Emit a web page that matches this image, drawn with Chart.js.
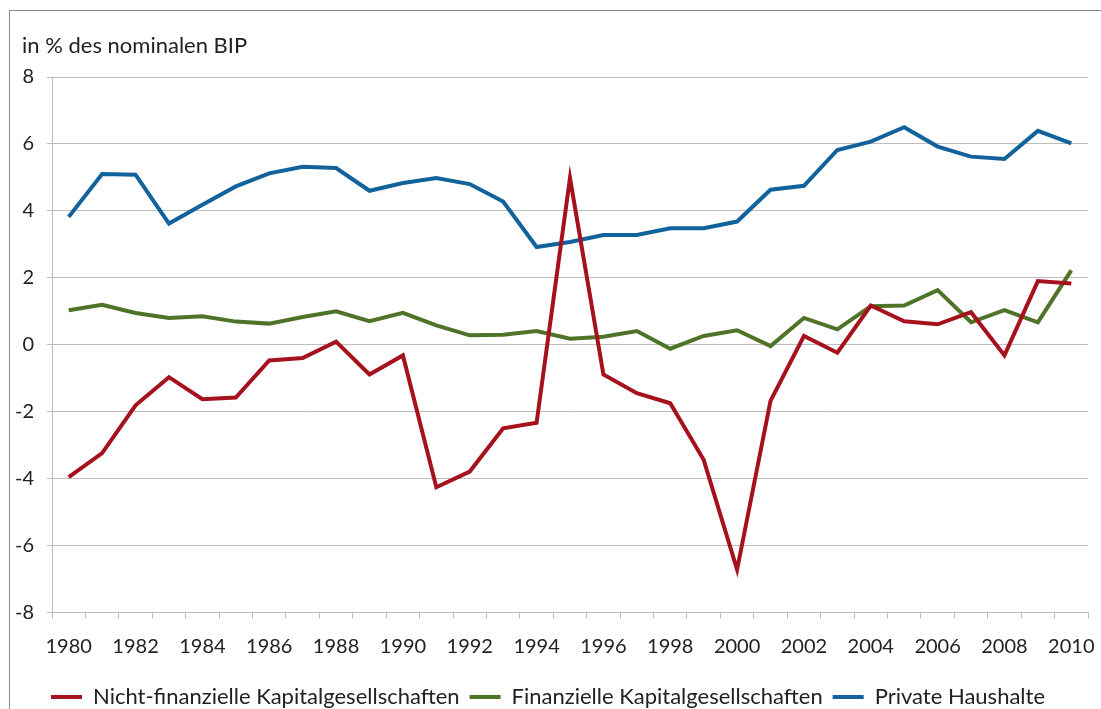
<!DOCTYPE html>
<html lang="de">
<head>
<meta charset="UTF-8">
<title>Finanzierungssalden in % des nominalen BIP</title>
<style>
  html, body { margin: 0; padding: 0; background: #fff; overflow: hidden; }
  .frame {
    position: absolute; left: 9px; top: 10px; width: 1200px; height: 800px;
    border-left: 1px solid #8c8c8c; border-top: 1px solid #8c8c8c;
  }
  .wrap { position: absolute; left: 0; top: 0; width: 1101px; height: 709px; }
</style>
<script src="https://cdn.jsdelivr.net/npm/chart.js"></script>
</head>
<body>
<div class="frame"></div>
<div class="wrap"><canvas id="chart"></canvas></div>
<script>
// Jahre
const years = ['1980','1981','1982','1983','1984','1985','1986','1987','1988','1989',
               '1990','1991','1992','1993','1994','1995','1996','1997','1998','1999',
               '2000','2001','2002','2003','2004','2005','2006','2007','2008','2009','2010'];

// Nicht-finanzielle Kapitalgesellschaften
const nichtFinanzielle = [-3.96, -3.24, -1.81, -0.97, -1.63, -1.58, -0.47, -0.40, 0.09, -0.89,
                          -0.32, -4.26, -3.79, -2.50, -2.33, 4.98, -0.89, -1.45, -1.75, -3.44,
                          -6.72, -1.68, 0.26, -0.24, 1.17, 0.70, 0.61, 0.97, -0.32, 1.90, 1.83];

// Finanzielle Kapitalgesellschaften
const finanzielle = [1.03, 1.19, 0.95, 0.80, 0.85, 0.69, 0.63, 0.83, 1.00, 0.70,
                     0.95, 0.58, 0.28, 0.30, 0.41, 0.18, 0.24, 0.41, -0.12, 0.26,
                     0.43, -0.04, 0.80, 0.46, 1.15, 1.17, 1.63, 0.67, 1.03, 0.67, 2.22];

// Private Haushalte
const privateHaushalte = [3.82, 5.10, 5.08, 3.62, 4.18, 4.73, 5.12, 5.32, 5.28, 4.60,
                          4.83, 4.98, 4.80, 4.28, 2.92, 3.07, 3.28, 3.28, 3.48, 3.48,
                          3.68, 4.63, 4.75, 5.82, 6.07, 6.50, 5.92, 5.62, 5.55, 6.39, 6.02];

const yTicks = { min: -8, max: 8, step: 2 };

const font = 'Lato';
const textColor = '#222';
const gridColor = '#bdbdbd';
const unitLabel = 'in % des nominalen BIP';

function series(label, data, color) {
  return {
    label: label,
    data: data,
    borderColor: color,
    backgroundColor: color,
    borderWidth: 4,
    pointRadius: 0,
    pointHoverRadius: 0,
    tension: 0
  };
}

// Einheit oben links ueber der y-Achse
const unitPlugin = {
  id: 'unitLabel',
  afterDraw(chart) {
    const c = chart.ctx;
    c.save();
    c.font = '22px ' + font;
    c.fillStyle = textColor;
    c.textAlign = 'left';
    c.textBaseline = 'middle';
    c.fillText(unitLabel, 22, 46);
    c.restore();
  }
};

const ctx = document.getElementById('chart').getContext('2d');
new Chart(ctx, {
  type: 'line',
  data: {
    labels: years,
    datasets: [
      series('Nicht-finanzielle Kapitalgesellschaften', nichtFinanzielle, '#a5121d'),
      series('Finanzielle Kapitalgesellschaften', finanzielle, '#4f7327'),
      series('Private Haushalte', privateHaushalte, '#12629c')
    ]
  },
  plugins: [unitPlugin],
  options: {
    responsive: true,
    maintainAspectRatio: false,
    animation: false,
    layout: { padding: { left: 8, right: 13, top: 77, bottom: -9 } },
    scales: {
      x: {
        offset: true,
        afterFit: function (scale) {
          scale.height = 63.6;
          scale.paddingLeft = 0;
          scale.paddingRight = 0;
        },
        grid: {
          offset: true,
          drawOnChartArea: false,
          drawTicks: true,
          tickLength: 6,
          color: gridColor
        },
        border: { display: true, color: gridColor },
        ticks: {
          autoSkip: false,
          maxRotation: 0,
          padding: 16,
          color: textColor,
          font: { family: font, size: 20 },
          callback: function (value, index) {
            return index % 2 === 0 ? this.getLabelForValue(value) : '';
          }
        }
      },
      y: {
        min: yTicks.min,
        max: yTicks.max,
        afterFit: function (scale) {
          scale.width = 44;
          scale.paddingTop = 0;
          scale.paddingBottom = 0;
        },
        grid: { color: gridColor, tickLength: 5 },
        border: { display: true, color: gridColor },
        ticks: {
          stepSize: yTicks.step,
          padding: 13,
          color: textColor,
          font: { family: font, size: 20 },
          callback: function (value) { return String(value); }
        }
      }
    },
    plugins: {
      title: { display: false },
      legend: {
        position: 'bottom',
        labels: {
          boxWidth: 31,
          boxHeight: 4,
          padding: 10,
          color: textColor,
          font: { family: font, size: 22 },
          generateLabels: function (chart) {
            const items = Chart.defaults.plugins.legend.labels.generateLabels(chart);
            items.forEach(function (it) { it.lineWidth = 0; });
            return items;
          }
        }
      },
      tooltip: { enabled: false }
    }
  }
});
</script>
</body>
</html>
